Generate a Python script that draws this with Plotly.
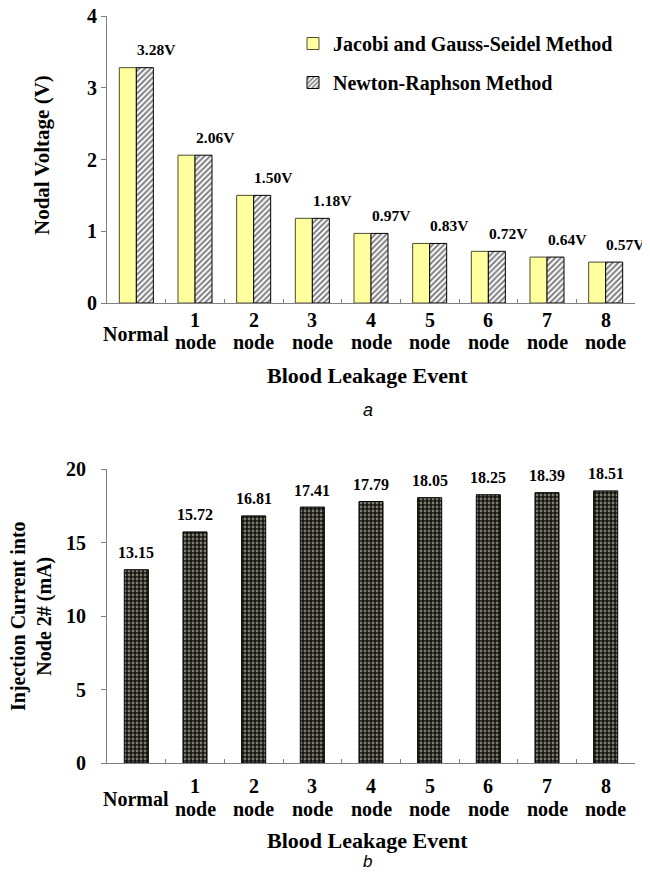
import plotly.graph_objects as go

# ---- data ----
categories = ["Normal", "1 node", "2 node", "3 node", "4 node", "5 node", "6 node", "7 node", "8 node"]
voltage_jacobi = [3.28, 2.06, 1.50, 1.18, 0.97, 0.83, 0.72, 0.64, 0.57]
voltage_newton = [3.28, 2.06, 1.50, 1.18, 0.97, 0.83, 0.72, 0.64, 0.57]
injection_current = [13.15, 15.72, 16.81, 17.41, 17.79, 18.05, 18.25, 18.39, 18.51]
series_names = ["Jacobi and Gauss-Seidel Method", "Newton-Raphson Method"]
y1_ticks = [0, 1, 2, 3, 4]
y2_ticks = [0, 5, 10, 15, 20]

SERIF = "Liberation Serif"
# the page body has an 8px default margin, so the figure is drawn 8px in from the window corner
PAGE_OFF = 8
W, H = 650 - PAGE_OFF, 872 - PAGE_OFF

def px_x(p):
    return (p - PAGE_OFF) / W

def px_y(p):
    return 1 - (p - PAGE_OFF) / H

fig = go.Figure()

fig.add_trace(go.Bar(
    x=categories, y=voltage_jacobi, name=series_names[0],
    xaxis="x", yaxis="y", width=0.29, offset=-0.29,
    marker=dict(color="#ffff9e", line=dict(color="#4d4d33", width=1)),
    legendgroup="a",
))
fig.add_trace(go.Bar(
    x=categories, y=voltage_newton, name=series_names[1],
    xaxis="x", yaxis="y", width=0.29, offset=0.0,
    marker=dict(color="white", line=dict(color="black", width=1),
                pattern=dict(shape="/", fgcolor="black", bgcolor="white", size=4, solidity=0.5)),
    legendgroup="b",
))
fig.add_trace(go.Bar(
    x=categories, y=injection_current, name="Injection current",
    xaxis="x2", yaxis="y2", width=0.41, showlegend=False,
    marker=dict(color="#111", line=dict(color="black", width=1),
                pattern=dict(shape=".", fgcolor="#e8e6c0", bgcolor="#141414", size=4, solidity=0.4)),
))

annotations = []
# data labels
for c, v in zip(categories, voltage_newton):
    annotations.append(dict(x=c, y=v, xref="x", yref="y", text=f"{v:.2f}V", showarrow=False,
                            xshift=20, yshift=18, yanchor="middle",
                            font=dict(family=SERIF, size=15.5, color="black", weight="bold")))
for c, v in zip(categories, injection_current):
    annotations.append(dict(x=c, y=v, xref="x2", yref="y2", text=f"{v:.2f}", showarrow=False,
                            yshift=17, yanchor="middle",
                            font=dict(family=SERIF, size=16, color="black", weight="bold")))

# category labels (two-line, with "Normal" centred between the lines)
def add_cat_labels(xref, axis_px, off_num, off_node, off_normal):
    f = dict(family=SERIF, size=20, color="black", weight="bold")
    for c in categories:
        parts = c.split(" ")
        if len(parts) == 1:
            annotations.append(dict(x=c, xref=xref, yref="paper", y=px_y(axis_px + off_normal),
                                    text=parts[0], showarrow=False, yanchor="middle", font=f))
        else:
            annotations.append(dict(x=c, xref=xref, yref="paper", y=px_y(axis_px + off_num),
                                    text=parts[0], showarrow=False, yanchor="middle", font=f))
            annotations.append(dict(x=c, xref=xref, yref="paper", y=px_y(axis_px + off_node),
                                    text=parts[1], showarrow=False, yanchor="middle", font=f))

add_cat_labels("x", 303, 17, 39, 31)
add_cat_labels("x2", 763, 23, 46, 36)

# axis titles
title_font = dict(family=SERIF, size=21, color="black", weight="bold")
annotations += [
    dict(x=px_x(368), y=px_y(375), xref="paper", yref="paper", text="Blood Leakage Event",
         showarrow=False, yanchor="middle", font=dict(family=SERIF, size=22, color="black", weight="bold")),
    dict(x=px_x(368), y=px_y(840), xref="paper", yref="paper", text="Blood Leakage Event",
         showarrow=False, yanchor="middle", font=dict(family=SERIF, size=22, color="black", weight="bold")),
    dict(x=px_x(42), y=px_y(155), xref="paper", yref="paper", text="Nodal Voltage (V)",
         showarrow=False, textangle=-90, xanchor="center", yanchor="middle", font=title_font),
    dict(x=px_x(31), y=px_y(616), xref="paper", yref="paper", text="Injection Current into<br>Node 2# (mA)",
         showarrow=False, textangle=-90, xanchor="center", yanchor="middle",
         font=dict(family=SERIF, size=20, color="black", weight="bold")),
    dict(x=px_x(368), y=px_y(410), xref="paper", yref="paper", text="a",
         showarrow=False, yanchor="middle",
         font=dict(family="Liberation Sans", size=18, color="black", style="italic")),
    dict(x=px_x(368), y=px_y(861), xref="paper", yref="paper", text="b",
         showarrow=False, yanchor="middle",
         font=dict(family="Liberation Sans", size=17, color="black", style="italic")),
]

xaxis_common = dict(
    type="category", categoryorder="array", categoryarray=categories,
    range=[-0.5, len(categories) - 0.5], domain=[px_x(107), px_x(635)],
    showline=True, linecolor="#808080", linewidth=1,
    ticks="inside", ticklen=4, tickcolor="#808080", tickson="boundaries",
    showticklabels=False, showgrid=False, zeroline=False, automargin=False,
)
yaxis_common = dict(
    showline=True, linecolor="#808080", linewidth=1,
    ticks="outside", ticklen=5, tickcolor="#808080",
    showgrid=False, zeroline=False, automargin=False, ticklabeloverflow="allow",
    tickfont=dict(family=SERIF, size=20, color="black", weight="bold"),
)

fig.update_layout(
    width=W, height=H,
    margin=dict(l=0, r=0, t=0, b=0, autoexpand=False),
    paper_bgcolor="white", plot_bgcolor="white",
    barmode="overlay",
    showlegend=True,
    legend=dict(x=px_x(293), y=px_y(24), xanchor="left", yanchor="top",
                font=dict(family=SERIF, size=20, color="black", weight="bold"),
                tracegroupgap=10, bgcolor="rgba(0,0,0,0)", traceorder="grouped"),
    xaxis=dict(anchor="y", **xaxis_common),
    yaxis=dict(anchor="x", domain=[px_y(303), px_y(16)], range=[0, 4],
               tickvals=y1_ticks, ticktext=[str(t) for t in y1_ticks], **yaxis_common),
    xaxis2=dict(anchor="y2", **xaxis_common),
    yaxis2=dict(anchor="x2", domain=[px_y(763), px_y(469)], range=[0, 20],
                tickvals=y2_ticks, ticktext=[str(t) for t in y2_ticks],
                ticklabelstandoff=11, **yaxis_common),
    annotations=annotations,
)

fig.write_html("out.html")
